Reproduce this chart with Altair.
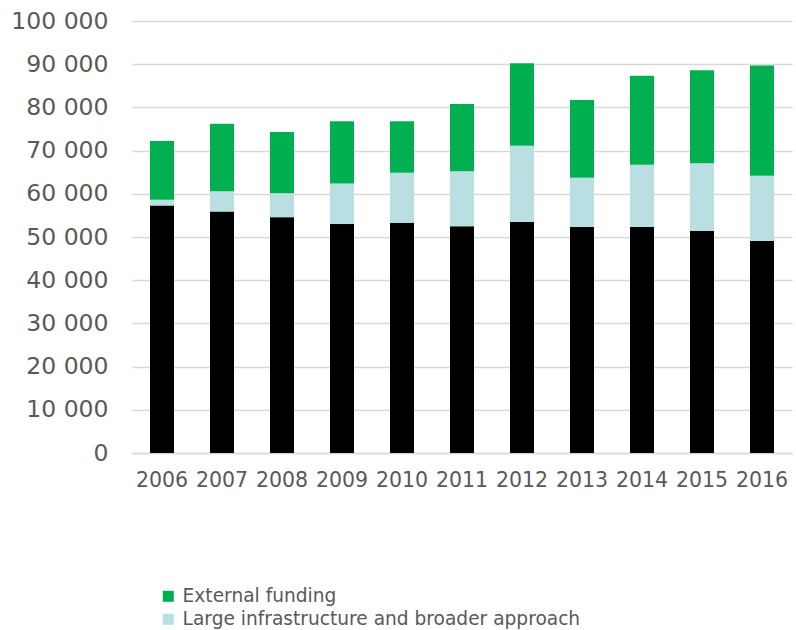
import altair as alt
import pandas as pd

years = ["2006", "2007", "2008", "2009", "2010", "2011", "2012", "2013", "2014", "2015", "2016"]
core = [57300, 55900, 54600, 53000, 53300, 52500, 53500, 52300, 52300, 51400, 49100]
large_infra = [1300, 4700, 5500, 9400, 11600, 12700, 17600, 11400, 14400, 15700, 15100]
external = [13600, 15600, 14200, 14400, 11900, 15600, 19100, 18000, 20600, 21500, 25500]

series_names = ["External funding", "Large infrastructure and broader approach", "Core funding"]
series_colors = ["#00B050", "#BADFE2", "#000000"]
y_ticks = [0, 10000, 20000, 30000, 40000, 50000, 60000, 70000, 80000, 90000, 100000]

rows = []
for i, yr in enumerate(years):
    rows.append({"year": yr, "series": "Core funding", "value": core[i], "ord": 0})
    rows.append({"year": yr, "series": "Large infrastructure and broader approach", "value": large_infra[i], "ord": 1})
    rows.append({"year": yr, "series": "External funding", "value": external[i], "ord": 2})
df = pd.DataFrame(rows)

FONT = "DejaVu Sans"
GREY = "#595959"
GRID = "#d9d9d9"

chart = (
    alt.Chart(df)
    .mark_bar()
    .encode(
        x=alt.X(
            "year:N",
            title=None,
            sort=years,
            scale=alt.Scale(paddingInner=0.6, paddingOuter=0.3),
            axis=alt.Axis(
                labelAngle=0,
                labelFontSize=20.5,
                labelColor=GREY,
                labelFont=FONT,
                labelPadding=17,
                ticks=False,
                domain=True,
                domainColor=GRID,
                domainWidth=1.3,
                grid=False,
            ),
        ),
        y=alt.Y(
            "value:Q",
            title=None,
            stack="zero",
            scale=alt.Scale(domain=[0, 100000], nice=False),
            axis=alt.Axis(
                values=y_ticks,
                labelExpr="datum.value >= 1000 ? floor(datum.value/1000) + ' 000' : '0'",
                labelFontSize=23.5,
                labelColor=GREY,
                labelFont=FONT,
                labelPadding=24,
                ticks=False,
                domain=False,
                grid=True,
                gridColor=GRID,
                gridWidth=1.3,
            ),
        ),
        color=alt.Color(
            "series:N",
            scale=alt.Scale(domain=series_names, range=series_colors),
            legend=alt.Legend(
                values=series_names[:2],
                title=None,
                orient="none",
                legendX=27,
                legendY=566,
                symbolType="square",
                symbolSize=121,
                symbolStrokeWidth=0,
                labelFontSize=18.6,
                labelFont=FONT,
                labelColor=GREY,
                labelOffset=5,
                labelLimit=0,
                rowPadding=4,
            ),
        ),
        order=alt.Order("ord:Q", sort="ascending"),
    )
    .properties(
        width=660,
        height=432,
        background="white",
        autosize=alt.AutoSizeParams(type="none"),
        padding={"left": 132, "top": 21, "right": 4, "bottom": 177},
    )
    .configure_view(strokeWidth=0, stroke=None)
)

chart.save("out.html", embed_options={"renderer": "svg", "actions": False})
